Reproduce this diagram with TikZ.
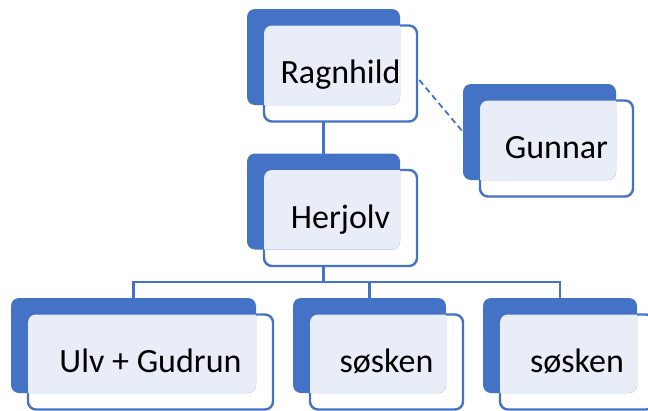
\documentclass[tikz,border=0pt]{standalone}
\usepackage{fontspec}
\setmainfont{Carlito}
\usetikzlibrary{backgrounds}
\definecolor{blueC}{HTML}{4472C4}
\definecolor{lightC}{HTML}{E9EDF7}
\tikzset{
  frontbox/.style={draw=blueC, line width=2.4pt, fill=white, rounded corners=8pt, outer sep=0pt, inner sep=0pt},
  backbox/.style={fill=blueC, rounded corners=8pt, outer sep=0pt, inner sep=0pt},
  conn/.style={draw=blueC, line width=2.2pt},
  dashconn/.style={draw=blueC, line width=1.8pt, dash pattern=on 6pt off 4pt},
  boxtext/.style={font=\fontsize{34}{40}\selectfont, text=black, anchor=base, inner sep=0pt}
}
\newcommand{\orgbox}[6]{%
  \node[frontbox, minimum width=#4pt, minimum height=#5pt] (#1f) at ({#2+17},{#3+16.5}) {};
  \node[backbox, minimum width=#4pt, minimum height=#5pt] (#1) at (#2,#3) {};
  \begin{scope}
    \clip[rounded corners=8pt] (#1.south west) rectangle (#1.north east);
    \fill[lightC, rounded corners=8pt] (#1f.south west) rectangle (#1f.north east);
  \end{scope}
  \node[boxtext] (#1t) at ([yshift=-10pt]#1f.center) {#6};
}
\begin{document}
\begin{tikzpicture}[x=1pt, y=-1pt]
  \useasboundingbox (0,0) rectangle (648,410);
  \clip (0,0) rectangle (648,410);
  \orgbox{rag}{323.5}{57}{153}{96}{Ragnhild}
  \orgbox{gun}{539.5}{132}{153}{96}{Gunnar}
  \orgbox{her}{323.5}{201.5}{153}{96}{Herjolv}
  \orgbox{ulv}{133.5}{345.5}{245}{95}{Ulv + Gudrun}
  \orgbox{sa}{369.5}{345.5}{153}{95}{søsken}
  \orgbox{sb}{560}{345.5}{154}{95}{søsken}
  \coordinate (bar) at (0,282);
  \begin{scope}[on background layer]
    \fill[white] (0,0) rectangle (648,410);
    \draw[conn] (rag.south) -- (her.north);
    \draw[dashconn] (rag.east) -- (gun.west);
    \draw[conn] (her.south) -- (her.south |- bar);
    \draw[conn] (ulv.north) -- (ulv.north |- bar) -| (sb.north);
    \draw[conn] (sa.north) -- (sa.north |- bar);
  \end{scope}
\end{tikzpicture}
\end{document}
